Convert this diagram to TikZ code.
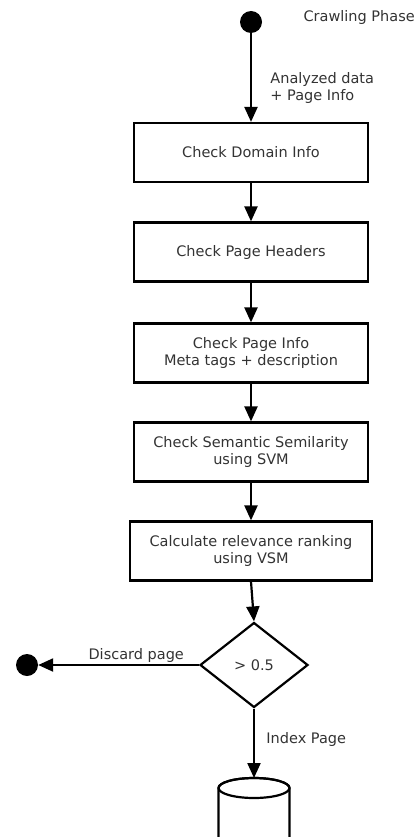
\documentclass[tikz,border=0pt]{standalone}
\usepackage{fontspec}
\setmainfont{DejaVu Sans}
\usepackage{tikz}
\usetikzlibrary{arrows.meta, shapes.geometric}
\definecolor{TextGray}{rgb}{0.2,0.2,0.2}

\begin{document}
\begin{tikzpicture}[x=1pt, y=-1pt,
		>={Triangle[length=15pt, width=13pt]},
		every node/.style={font=\fontsize{14.5}{17}\selectfont, text=TextGray},
		stepbox/.style={draw, line width=2.2pt, minimum width=234pt, minimum height=59pt, align=center, inner sep=0pt},
		dot/.style={circle, fill=black, minimum size=22pt, inner sep=0pt},
		flow/.style={->, line width=2.2pt}]
		
		\useasboundingbox (0,0) rectangle (417,837);
		\clip (0,0) rectangle (417,837);
		
		% start
		\node[dot] (start) at (251,22) {};
		\node[anchor=west] (phase) at (300,18) {Crawling Phase};
		
		% checks
		\node[stepbox] (domain) at (251,152.5) {Check Domain Info};
		\node[stepbox] (headers) at (251,252) {Check Page Headers};
		\node[stepbox] (info) at (251,353) {Check Page Info\\Meta tags + description};
		\node[stepbox] (svm) at (251,452) {Check Semantic Semilarity\\using SVM};
		\node[stepbox, minimum width=242pt] (vsm) at (251,551) {Calculate relevance ranking\\using VSM};
		
		% decision
		\node[diamond, draw, line width=2.2pt, minimum width=108pt, minimum height=85pt, inner sep=0pt] (score) at (254,665) {> 0.5};
		\node[dot] (discard) at (27,665) {};
		
		% database
		\coordinate (index) at (254,778);
		\draw[line width=2.2pt] (218.5,850) -- (218.5,788) arc[start angle=180, end angle=360, x radius=35.5pt, y radius=-10pt] -- (289.5,850);
		\draw[line width=2.2pt] (254,788) ellipse[x radius=35.5pt, y radius=10pt];
		
		% arrows
		\draw[flow] (start) -- (domain.north) node[pos=0.62, anchor=west, align=left, xshift=15pt] {Analyzed data\\+ Page Info};
		\draw[flow] (domain) -- (headers);
		\draw[flow] (headers) -- (info);
		\draw[flow] (info) -- (svm);
		\draw[flow] (svm) -- (vsm);
		\draw[flow] (vsm.south) -- (score.north);
		\draw[flow] (score.west) -- (discard) node[pos=0.39, above, inner sep=1pt] {Discard page};
		\draw[flow] (score.south) -- (index) node[pos=0.45, anchor=west, xshift=8pt] {Index Page};
		
	\end{tikzpicture}
\end{document}
